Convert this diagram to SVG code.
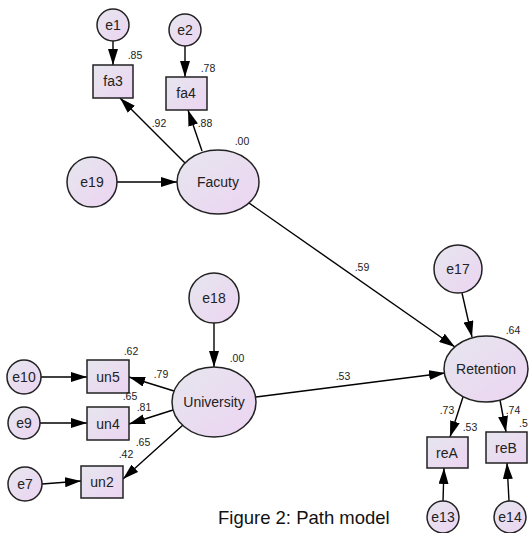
<svg xmlns="http://www.w3.org/2000/svg" width="529" height="533" viewBox="0 0 529 533">
<defs>
<linearGradient id="g" x1="0" y1="0" x2="1" y2="1">
<stop offset="0" stop-color="#e6e6ee"/>
<stop offset="1" stop-color="#ecd4f2"/>
</linearGradient>
<marker id="ah" markerUnits="userSpaceOnUse" markerWidth="16" markerHeight="10" refX="16" refY="5" orient="auto">
<path d="M0,0 L16,5 L0,10 z" fill="#000"/>
</marker>
</defs>
<style>
.n{fill:url(#g);stroke:#222;stroke-width:1.5}
.t{font-family:"Liberation Sans",Arial,sans-serif;font-size:14px;fill:#222;text-anchor:middle}
.s{font-family:"Liberation Sans",Arial,sans-serif;font-size:10.5px;fill:#222;text-anchor:middle}
.c line{stroke:#000;stroke-width:1.4;marker-end:url(#ah)}
.cap{font-family:"Liberation Sans",Arial,sans-serif;font-size:18.5px;fill:#111}
</style>
<rect width="529" height="533" fill="#fff"/>
<g class="c" id="connectors">
<line x1="113" y1="41" x2="113" y2="65"/>
<line x1="185" y1="46" x2="185" y2="77"/>
<line x1="117" y1="182" x2="177" y2="182"/>
<line x1="185" y1="163" x2="120" y2="98"/>
<line x1="202" y1="151" x2="188" y2="110"/>
<line x1="249" y1="203" x2="455" y2="347"/>
<line x1="462" y1="293" x2="472" y2="337"/>
<line x1="214" y1="323" x2="214" y2="367"/>
<line x1="256" y1="397" x2="445" y2="373"/>
<line x1="41" y1="377" x2="87" y2="377"/>
<line x1="40" y1="423" x2="87" y2="423"/>
<line x1="42" y1="484" x2="81" y2="481"/>
<line x1="174" y1="391" x2="129" y2="377"/>
<line x1="173" y1="410" x2="129" y2="424"/>
<line x1="183" y1="425" x2="123" y2="479"/>
<line x1="463" y1="397" x2="450" y2="437"/>
<line x1="500" y1="400" x2="506" y2="432"/>
<line x1="443" y1="501" x2="444" y2="468"/>
<line x1="509" y1="501" x2="507" y2="463"/>
</g>
<g id="e1"><circle class="n" cx="113" cy="25" r="16"/><text class="t" x="113" y="30">e1</text></g>
<g id="e2"><circle class="n" cx="185" cy="30" r="16"/><text class="t" x="185" y="35">e2</text></g>
<g id="fa3"><rect class="n" x="93" y="65" width="40" height="33"/><text class="t" x="113" y="86">fa3</text><text class="s" x="135" y="59">.85</text></g>
<g id="fa4"><rect class="n" x="166" y="77" width="41" height="33"/><text class="t" x="186" y="98">fa4</text><text class="s" x="208" y="72">.78</text></g>
<g id="e19"><circle class="n" cx="92" cy="182" r="25"/><text class="t" x="92" y="187">e19</text></g>
<g id="Facuty"><ellipse class="n" cx="218" cy="182" rx="41" ry="32"/><text class="t" x="218" y="187">Facuty</text><text class="s" x="242" y="145">.00</text></g>
<g id="e17"><circle class="n" cx="458" cy="269" r="24"/><text class="t" x="458" y="274">e17</text></g>
<g id="Retention"><ellipse class="n" cx="486" cy="369" rx="42" ry="33"/><text class="t" x="486" y="374">Retention</text><text class="s" x="513" y="334">.64</text></g>
<g id="e18"><circle class="n" cx="214" cy="298" r="25"/><text class="t" x="214" y="303">e18</text></g>
<g id="University"><ellipse class="n" cx="214" cy="402" rx="42" ry="35"/><text class="t" x="214" y="407">University</text><text class="s" x="237" y="362">.00</text></g>
<g id="e10"><circle class="n" cx="24" cy="377" r="17"/><text class="t" x="24" y="382">e10</text></g>
<g id="un5"><rect class="n" x="87" y="360" width="42" height="33"/><text class="t" x="108" y="382">un5</text><text class="s" x="131" y="355">.62</text></g>
<g id="e9"><circle class="n" cx="24" cy="423" r="16"/><text class="t" x="24" y="428">e9</text></g>
<g id="un4"><rect class="n" x="87" y="407" width="42" height="33"/><text class="t" x="108" y="429">un4</text><text class="s" x="130" y="400">.65</text></g>
<g id="e7"><circle class="n" cx="25" cy="484" r="17"/><text class="t" x="25" y="489">e7</text></g>
<g id="un2"><rect class="n" x="81" y="466" width="42" height="32"/><text class="t" x="102" y="487">un2</text><text class="s" x="126" y="458">.42</text></g>
<g id="reA"><rect class="n" x="427" y="437" width="41" height="31"/><text class="t" x="447" y="458">reA</text><text class="s" x="470" y="431">.53</text></g>
<g id="reB"><rect class="n" x="486" y="432" width="41" height="31"/><text class="t" x="506" y="453">reB</text><text class="s" x="519" y="427" style="text-anchor:start">.5</text></g>
<g id="e13"><circle class="n" cx="443" cy="517" r="16"/><text class="t" x="443" y="522">e13</text></g>
<g id="e14"><circle class="n" cx="510" cy="517" r="16"/><text class="t" x="510" y="522">e14</text></g>
<g id="labels">
<text class="s" x="159" y="127">.92</text>
<text class="s" x="205" y="127">.88</text>
<text class="s" x="362" y="271">.59</text>
<text class="s" x="343" y="380">.53</text>
<text class="s" x="161" y="378">.79</text>
<text class="s" x="144" y="411">.81</text>
<text class="s" x="143" y="446">.65</text>
<text class="s" x="447" y="414">.73</text>
<text class="s" x="513" y="414">.74</text>
</g>
<text class="cap" x="218" y="524">Figure 2: Path model</text>
</svg>
